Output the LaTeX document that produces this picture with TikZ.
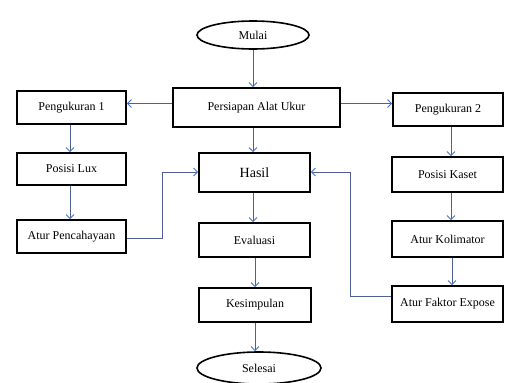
\documentclass[tikz,border=0pt]{standalone}
\usepackage{fontspec}
\setmainfont{Liberation Serif}
\usetikzlibrary{shapes.geometric,arrows.meta}
\definecolor{lineblue}{RGB}{80,95,150}
\definecolor{tipblue}{RGB}{70,115,200}
\tikzset{
  box/.style={draw=black,line width=1.6pt,fill=white,inner sep=0pt,font=\fontsize{12}{14}\selectfont},
  oval/.style={ellipse,draw=black,line width=1.6pt,fill=white,inner sep=0pt,font=\fontsize{12}{14}\selectfont},
  conn/.style={draw=lineblue,line width=0.9pt,-{Straight Barb[length=4pt,width=8pt,color=tipblue]}}
}
\begin{document}
\begin{tikzpicture}[x=1pt,y=-1pt]
\useasboundingbox[fill=white] (0,0) rectangle (509,383);
\node[oval,minimum width=112pt,minimum height=28pt] (mulai) at (253,35) {Mulai};
\node[box,minimum width=167pt,minimum height=39pt] (persiapan) at (256.5,107.5) {Persiapan Alat Ukur};
\node[box,minimum width=109pt,minimum height=33pt] (p1) at (71.5,107.5) {Pengukuran 1};
\node[box,minimum width=110pt,minimum height=33pt] (p2) at (448,109.5) {Pengukuran 2};
\node[box,minimum width=109pt,minimum height=32pt] (lux) at (71.5,169) {Posisi Lux};
\node[box,minimum width=109pt,minimum height=33pt] (cahaya) at (71.5,236.5) {Atur Pencahayaan};
\node[box,minimum width=111pt,minimum height=39pt,font=\fontsize{14}{16}\selectfont] (hasil) at (254.5,172.5) {Hasil};
\node[box,minimum width=111pt,minimum height=34pt] (eval) at (254.5,240) {Evaluasi};
\node[box,minimum width=112pt,minimum height=34pt] (kesimp) at (255,305) {Kesimpulan};
\node[box,minimum width=111pt,minimum height=35pt] (kaset) at (447.5,174.5) {Posisi Kaset};
\node[box,minimum width=111pt,minimum height=36pt] (kolim) at (447.5,239) {Atur Kolimator};
\node[box,minimum width=111pt,minimum height=36pt] (faktor) at (447.5,304) {Atur Faktor Expose};
\node[oval,minimum width=124pt,minimum height=32pt] (selesai) at (259,368) {Selesai};

\coordinate (c1) at (162,238);
\coordinate (c2) at (162,172);
\coordinate (d1) at (350,296);
\coordinate (d2) at (350,172);

\draw[conn] (mulai.south) -- (persiapan.north -| mulai.south);
\draw[conn] ([yshift=4pt]persiapan.west) -- ([yshift=4pt]persiapan.west -| p1.east);
\draw[conn] ([yshift=4pt]persiapan.east) -- ([yshift=4pt]persiapan.east -| p2.west);
\draw[conn] (persiapan.south -| mulai.south) -- (hasil.north -| mulai.south);
\draw[conn] ([xshift=-1.5pt]p1.south) -- ([xshift=-1.5pt]lux.north);
\draw[conn] ([xshift=-1.5pt]lux.south) -- ([xshift=-1.5pt]cahaya.north);
\draw[conn] ([xshift=3pt]p2.south) -- ([xshift=3pt]p2.south |- kaset.north);
\draw[conn] ([xshift=3.5pt]kaset.south) -- ([xshift=3.5pt]kolim.north);
\draw[conn] ([xshift=4.5pt]kolim.south) -- ([xshift=4.5pt]faktor.north);
\draw[conn] ([xshift=-1.5pt]hasil.south) -- ([xshift=-1.5pt]eval.north);
\draw[conn] (eval.south -| kesimp.south) -- (kesimp.north);
\draw[conn] (kesimp.south) -- (selesai.north -| kesimp.south);
\draw[conn] (c1 -| cahaya.east) -- (c1) -- (c2) -- (c2 -| hasil.west);
\draw[conn] (d1 -| faktor.west) -- (d1) -- (d2) -- (d2 -| hasil.east);
\end{tikzpicture}
\end{document}
